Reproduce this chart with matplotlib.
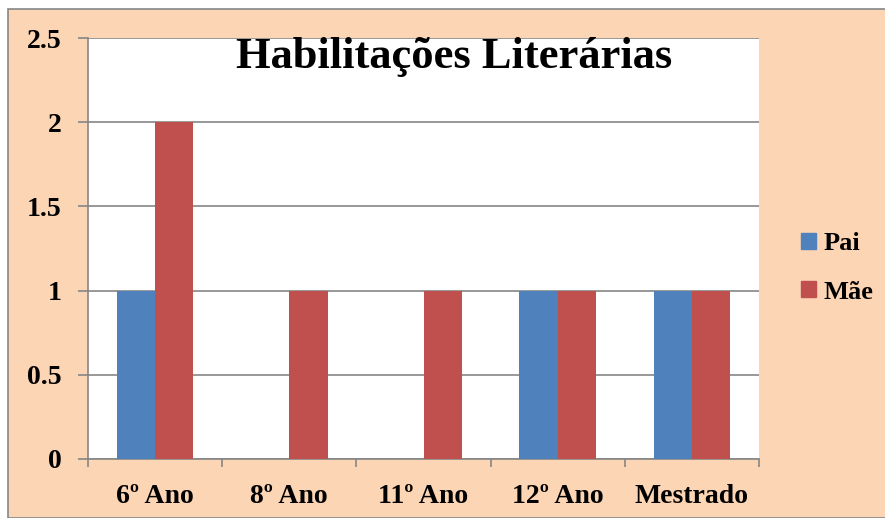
import matplotlib.pyplot as plt
from matplotlib.patches import Rectangle, Patch

categorias = ["6º Ano", "8º Ano", "11º Ano", "12º Ano", "Mestrado"]
pai = [1, 0, 0, 1, 1]
mae = [2, 1, 1, 1, 1]
y_ticks = [0, 0.5, 1, 1.5, 2, 2.5]
y_labels = ["0", "0.5", "1", "1.5", "2", "2.5"]

azul = "#4F81BD"
vermelho = "#C0504D"
pessego = "#FCD5B5"
cinza = "#868686"
fonte = ["Liberation Serif", "DejaVu Serif"]

W, H = 885, 518
fig = plt.figure(figsize=(W / 100, H / 100), dpi=100)
fig.patch.set_facecolor("white")

# moldura pessego
fig.patches.append(Rectangle((8 / W, 0), 1, 1 - 9 / H, transform=fig.transFigure,
                             facecolor=pessego, edgecolor=cinza, linewidth=1.2, zorder=-10))

ax = fig.add_axes([88 / W, (H - 459) / H, (759 - 88) / W, (459 - 38) / H])
ax.set_zorder(1)
ax.set_facecolor("white")

x = list(range(len(categorias)))
w = 0.285
ax.bar([i - w / 2 for i in x], pai, width=w, color=azul, zorder=3, label="Pai")
ax.bar([i + w / 2 for i in x], mae, width=w, color=vermelho, zorder=3, label="Mãe")

ax.set_xlim(-0.5, len(categorias) - 0.5)
ax.set_ylim(0, 2.5)
ax.set_yticks(y_ticks)
ax.set_yticklabels(y_labels, fontfamily=fonte, fontweight="bold", fontsize=20)
ax.yaxis.grid(True, color=cinza, linewidth=1.2, zorder=1)
ax.set_axisbelow(True)

ax.set_xticks(x)
ax.set_xticklabels(categorias, fontfamily=fonte, fontweight="bold", fontsize=20)
ax.set_xticks([i - 0.5 for i in range(len(categorias) + 1)], minor=True)
ax.tick_params(axis="x", which="major", length=0, pad=18)
ax.tick_params(axis="x", which="minor", length=6, width=1.2, color=cinza)
ax.tick_params(axis="y", length=7, width=1.2, color=cinza, pad=12)

for lado in ["top", "right"]:
    ax.spines[lado].set_visible(False)
for lado in ["left", "bottom"]:
    ax.spines[lado].set_color(cinza)
    ax.spines[lado].set_linewidth(1.2)

fig.text(454 / W, 1 - 68 / H, "Habilitações Literárias", ha="center", va="baseline",
         fontfamily=fonte, fontweight="bold", fontsize=32, zorder=5)

handles = [Patch(color=azul, label="Pai"), Patch(color=vermelho, label="Mãe")]
fig.legend(handles=handles, loc="center left", bbox_to_anchor=(801 / W, 1 - 268 / H),
           frameon=False, borderpad=0, borderaxespad=0,
           handlelength=0.55, handleheight=0.55, handletextpad=0.3,
           labelspacing=0.95, prop={"family": fonte, "weight": "bold", "size": 19})

fig.savefig("out.png", dpi=100, facecolor="white")
